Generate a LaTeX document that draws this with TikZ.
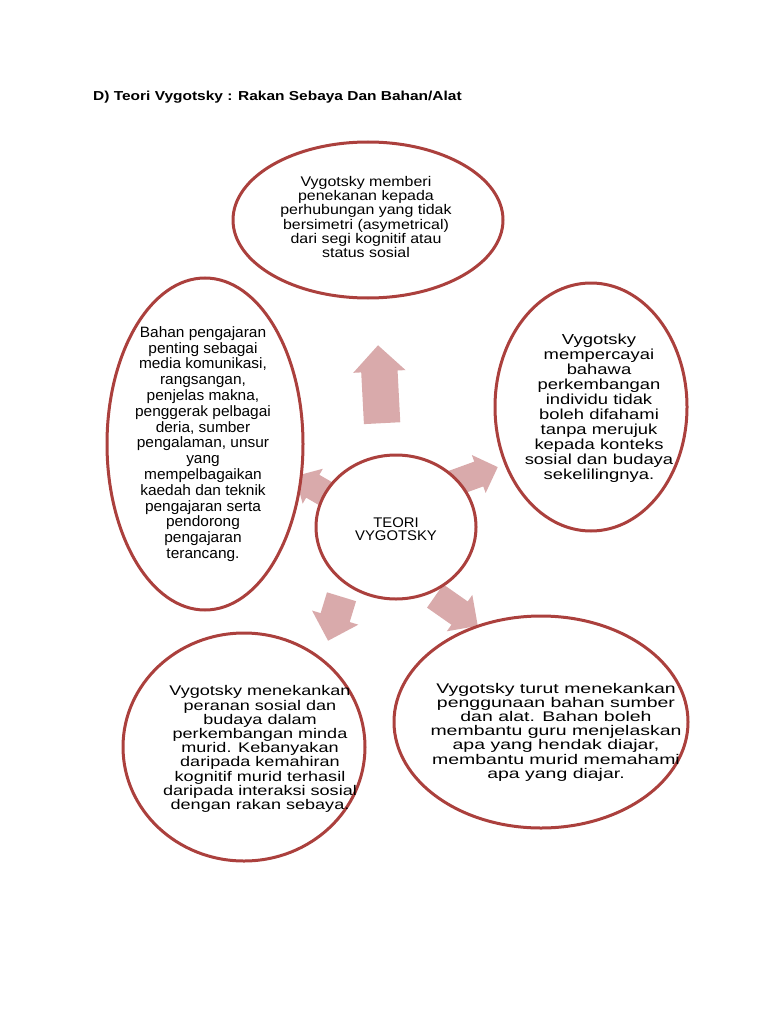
\documentclass[tikz,border=0pt]{standalone}
\usepackage{fontspec}
\setmainfont{Liberation Sans}
\usetikzlibrary{shapes.geometric,shapes.arrows}

\definecolor{rimred}{HTML}{AB403D}
\definecolor{arwpink}{HTML}{D9AAAB}
\newcommand\bodyfont[3]{\fontsize{#1}{#2}\selectfont\addfontfeature{FakeStretch=#3}}

\begin{document}
\begin{tikzpicture}[
  x=1pt, y=-1pt,
  ell/.style={ellipse, draw=rimred, line width=3pt, fill=white, inner sep=0pt},
  arw/.style={single arrow, anchor=tip, fill=arwpink, draw=none, inner xsep=0pt, single arrow tip angle=90},
  txt/.style={align=center, inner sep=0pt, text=black},
]
\useasboundingbox (0,0) rectangle (768,1024);

\node[anchor=base west, inner sep=0pt, font=\bfseries\bodyfont{13}{15}{1.19}] (title) at (93,101) {D) Teori Vygotsky : Rakan Sebaya Dan Bahan/Alat};

% arrows go first, the ellipses hide their ends
\node[arw, minimum height=78, inner ysep=18, single arrow head extend=8, rotate=93] (aup) at (378,345) {};
\node[arw, minimum height=48, inner ysep=13, single arrow head extend=7, rotate=20] (aright) at (498,467) {};
\node[arw, minimum height=52, inner ysep=14, single arrow head extend=8, rotate=-35] (abright) at (478,626) {};
\node[arw, minimum height=46, inner ysep=15, single arrow head extend=9, rotate=-107] (ableft) at (328,641) {};
\node[arw, minimum height=50, inner ysep=13, single arrow head extend=7, rotate=150] (aleft) at (295,476) {};

% ellipses
\node[ell, minimum width=270, minimum height=156] (top) at (368,220) {};
\node[ell, minimum width=196, minimum height=332] (left) at (205,444) {};
\node[ell, minimum width=192, minimum height=248] (right) at (591,407) {};
\node[ell, minimum width=160, minimum height=144] (mid) at (396,527) {};
\node[ell, minimum width=242, minimum height=228] (bleft) at (244,747) {};
\node[ell, minimum width=294, minimum height=212] (bright) at (541,722) {};

% texts
\node[txt, font=\bodyfont{14}{14.2}{1.14}] (toptxt) at (366,217) {Vygotsky memberi\\penekanan kepada\\perhubungan yang tidak\\bersimetri (asymetrical)\\dari segi kognitif atau\\status sosial};
\node[txt, font=\bodyfont{15}{15.8}{1.03}] (lefttxt) at (203,444) {Bahan pengajaran\\penting sebagai\\media komunikasi,\\rangsangan,\\penjelas makna,\\penggerak pelbagai\\deria, sumber\\pengalaman, unsur\\yang\\mempelbagaikan\\kaedah dan teknik\\pengajaran serta\\pendorong\\pengajaran\\terancang.};
\node[txt, font=\bodyfont{14.5}{15}{1.27}] (righttxt) at (599,408) {Vygotsky\\mempercayai\\bahawa\\perkembangan\\individu tidak\\boleh difahami\\tanpa merujuk\\kepada konteks\\sosial dan budaya\\sekelilingnya.};
\node[txt, font=\bodyfont{14}{13.5}{1.06}] (midtxt) at (396,529) {TEORI\\VYGOTSKY};
\node[txt, font=\bodyfont{14}{14.2}{1.29}] (blefttxt) at (260,749) {Vygotsky menekankan\\peranan sosial dan\\budaya dalam\\perkembangan minda\\murid. Kebanyakan\\daripada kemahiran\\kognitif murid terhasil\\daripada interaksi sosial\\dengan rakan sebaya.};
\node[txt, font=\bodyfont{14}{14.2}{1.39}] (brighttxt) at (556,732) {Vygotsky turut menekankan\\penggunaan bahan sumber\\dan alat. Bahan boleh\\membantu guru menjelaskan\\apa yang hendak diajar,\\membantu murid memahami\\apa yang diajar.};
\end{tikzpicture}
\end{document}
